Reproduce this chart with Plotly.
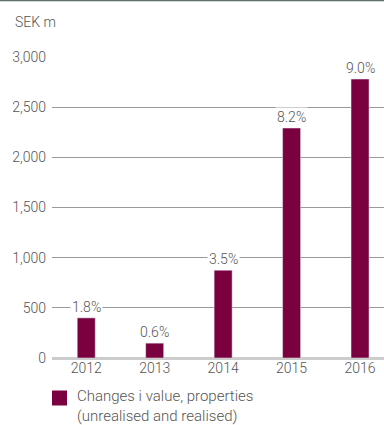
import plotly.graph_objects as go

years = ["2012", "2013", "2014", "2015", "2016"]
values = [400, 148, 875, 2292, 2780]
pct_labels = ["1.8%", "0.6%", "3.5%", "8.2%", "9.0%"]
y_ticks = [0, 500, 1000, 1500, 2000, 2500, 3000]
y_ticklabels = ["0", "500", "1,000", "1,500", "2,000", "2,500", "3,000"]

BAR = "#7a0040"
TXT = "#555555"
FONT = "Roboto"
WT = 300

W, H = 384, 425
ML, MR, MT, MB = 52, 0, 57, 67

fig = go.Figure()
fig.add_trace(go.Bar(
    x=list(range(len(years))), y=values, marker_color=BAR, width=0.263,
    showlegend=False, hoverinfo="skip"))

for i, (v, t) in enumerate(zip(values, pct_labels)):
    fig.add_annotation(x=i, y=v, text=t, showarrow=False, yanchor="bottom",
                       yshift=1, bgcolor="white", borderpad=1,
                       font=dict(family=FONT, size=14, color=TXT, weight=WT))

plot_h = H - MT - MB
plot_w = W - ML - MR
# SEK m title
fig.add_annotation(xref="paper", yref="paper", x=(13 - ML) / plot_w,
                   y=1 + (MT - 22) / plot_h, text="SEK m", showarrow=False,
                   xanchor="left", yanchor="middle",
                   font=dict(family=FONT, size=14, color=TXT, weight=WT))
# legend
fig.add_shape(type="rect", xref="paper", yref="paper",
              x0=0, x1=15 / plot_w,
              y0=-(390.5 - (H - MB)) / plot_h, y1=-(405.5 - (H - MB)) / plot_h,
              fillcolor=BAR, line_width=0)
fig.add_annotation(xref="paper", yref="paper", x=(75 - ML) / plot_w,
                   y=-(406 - (H - MB)) / plot_h,
                   text="Changes i value, properties<br>(unrealised and realised)",
                   showarrow=False, xanchor="left", yanchor="middle", align="left",
                   font=dict(family=FONT, size=15, color=TXT, weight=WT))
# top border
fig.add_shape(type="line", xref="paper", yref="paper",
              x0=-ML / plot_w, x1=1, y0=1 + (MT - 0.5) / plot_h, y1=1 + (MT - 0.5) / plot_h,
              line=dict(color="#5e6e68", width=1.5))

fig.update_layout(
    width=W, height=H, margin=dict(l=ML, r=MR, t=MT, b=MB),
    paper_bgcolor="white", plot_bgcolor="white",
    font=dict(family=FONT, size=14, color=TXT, weight=WT),
    xaxis=dict(tickmode="array", tickvals=list(range(len(years))), ticktext=years,
               range=[-0.5, 4.35], showgrid=False, zeroline=False, showline=False,
               ticks="", tickfont=dict(family=FONT, size=14, color=TXT, weight=WT)),
    yaxis=dict(tickmode="array", tickvals=y_ticks, ticktext=y_ticklabels,
               range=[0, 3000], showgrid=True, gridcolor="#9a9a9a", gridwidth=1,
               zeroline=True, zerolinecolor="#cccccc", zerolinewidth=3,
               showline=False, ticks="", ticklabelstandoff=5,
               tickfont=dict(family=FONT, size=14, color=TXT, weight=WT)),
)
fig.write_html("out.html")
